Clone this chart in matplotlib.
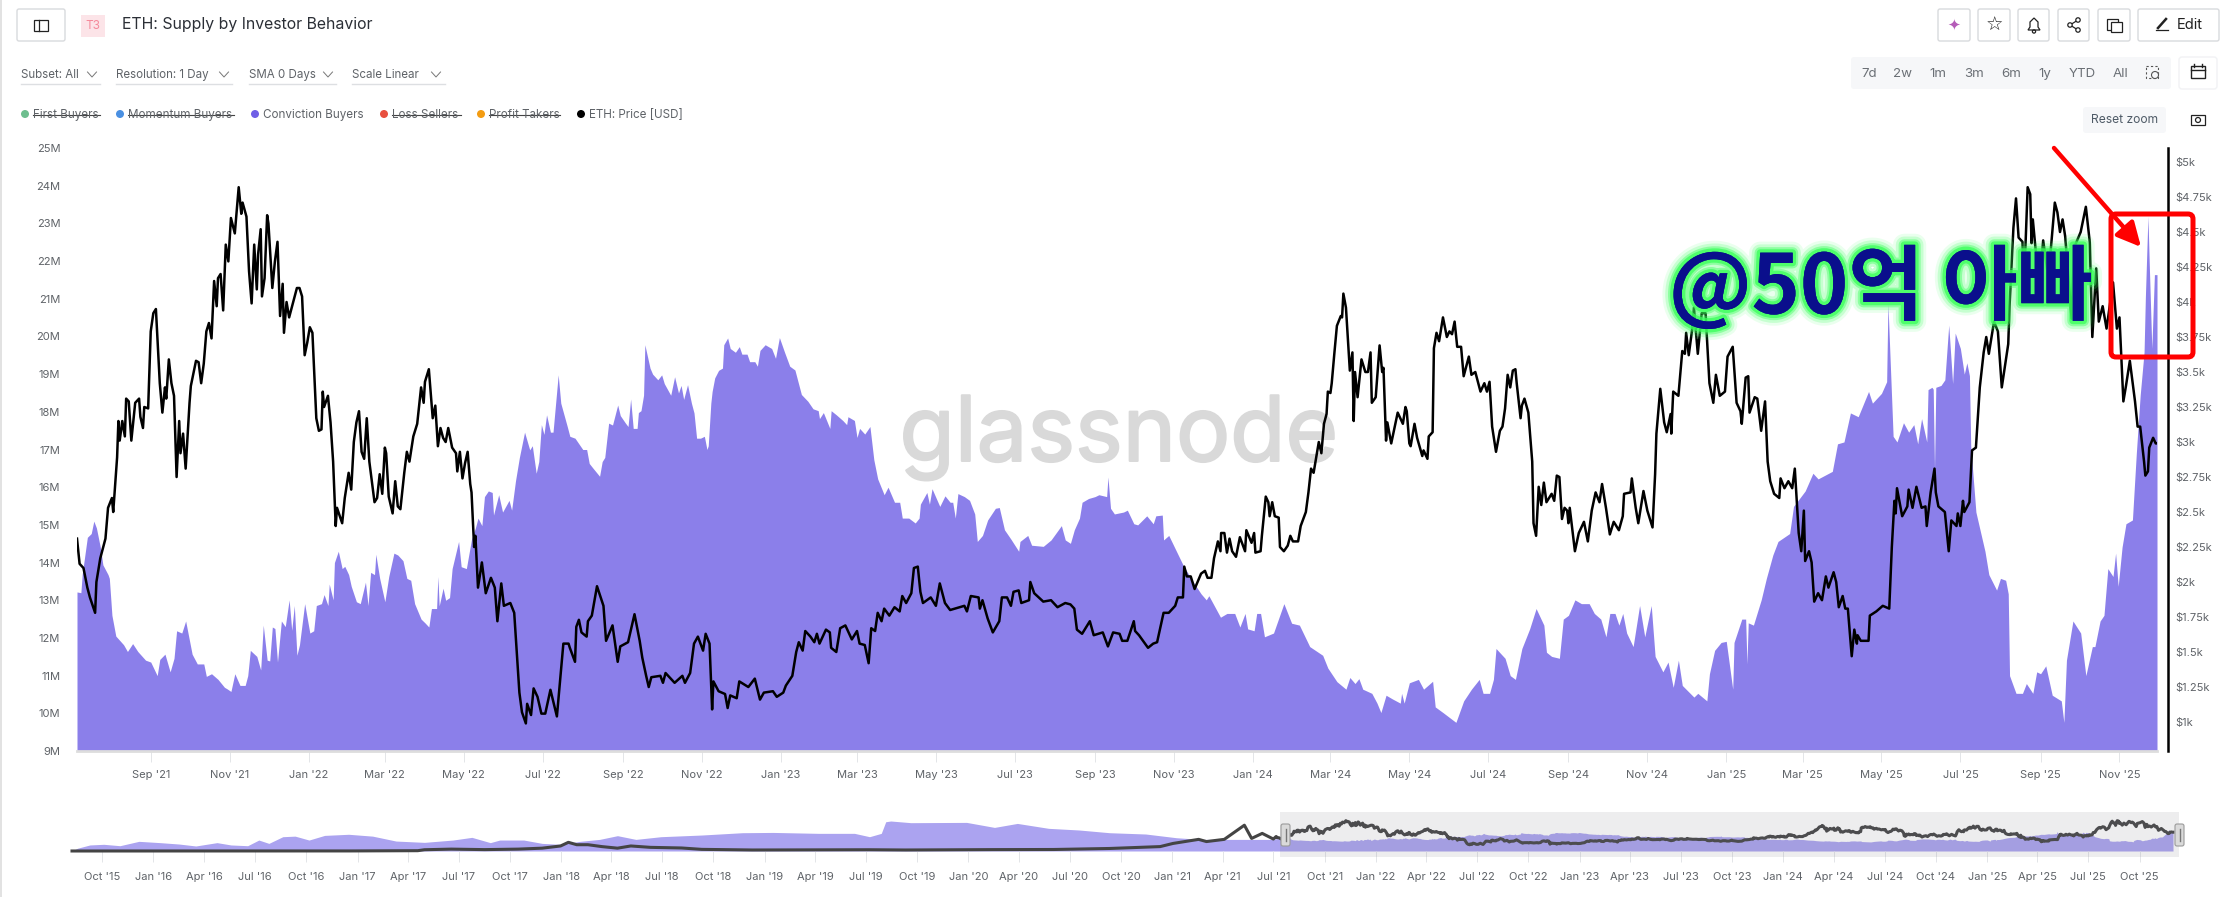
import numpy as np
import matplotlib
matplotlib.use('Agg')
import matplotlib.pyplot as plt
import matplotlib.dates as mdates
import matplotlib.patheffects as pe
from matplotlib.patches import Rectangle, FancyBboxPatch, Circle, Polygon

plt.rcParams['font.family'] = ['Inter', 'Noto Sans CJK KR', 'DejaVu Sans']

# DATA - main window, days counted from 2021-07-06
START = np.datetime64('2021-07-06')
supply_days = [0, 3, 4, 8, 11, 13, 15, 18, 20, 24, 25, 27, 30, 36, 39, 43, 47, 53, 57, 62, 64, 68, 72, 75, 77, 81, 84, 89, 93,
    98, 100, 104, 109, 114, 116, 119, 122, 126, 130, 132, 134, 139, 142, 144, 147, 149, 151, 153, 155, 158, 161, 164, 166, 168, 170, 172,
    176, 180, 183, 185, 189, 191, 194, 195, 198, 199, 202, 205, 207, 210, 212, 216, 219, 223, 225, 227, 230, 231, 234, 238, 241, 245, 248,
    252, 255, 258, 261, 266, 269, 272, 274, 278, 279, 280, 283, 285, 288, 290, 295, 297, 301, 305, 308, 310, 313, 315, 318, 321, 322, 326,
    329, 334, 336, 339, 342, 346, 350, 352, 355, 357, 359, 361, 363, 366, 368, 372, 374, 379,
    381, 385, 391, 394, 396, 399, 404, 406, 408, 411, 414, 418, 420, 424, 426, 428, 430, 433, 434, 436, 438, 439, 443, 445, 449, 452, 454,
    459, 462, 465, 467, 469, 472, 475, 477, 479, 482, 485, 487, 488, 490, 491, 493, 496, 499, 500, 503, 505, 509, 512, 514, 518, 520, 524,
    526, 528, 532, 537, 540, 543, 547, 551, 555, 560, 565, 569, 573, 574, 577, 582, 583, 587, 592, 595, 596, 601, 603, 605, 609, 613, 616,
    619, 624, 627, 632, 636, 638, 643, 648, 651, 652, 657, 659, 661, 667, 671, 675, 677, 679, 681, 686, 690, 694, 696, 700, 704, 710, 713,
    717, 722, 728, 729, 735, 738, 747, 753, 761, 764,
    768, 771, 775, 777, 782, 787, 790, 796, 797, 799, 802, 809, 812, 817, 820, 827, 832, 834, 839, 840, 844, 855, 863, 869, 873, 875, 884,
    889, 895, 899, 903, 905, 910, 912, 915, 918, 925, 933, 939, 945, 953, 963, 967, 974, 981, 984, 988, 991, 994, 1001, 1005, 1008, 1012,
    1017, 1023, 1024, 1026, 1030, 1037, 1041, 1046, 1048, 1050, 1056, 1066, 1072, 1078, 1084, 1087, 1092, 1095, 1097, 1104, 1108, 1112,
    1117, 1123, 1128, 1134, 1136, 1140, 1146, 1149, 1153,
    1158, 1163, 1169, 1173, 1178, 1182, 1185, 1189, 1192, 1195, 1198, 1203, 1208, 1212, 1217, 1220, 1226, 1230, 1234, 1238, 1241, 1250, 1253,
    1260, 1262, 1266, 1271, 1275, 1280, 1281, 1287, 1290, 1291, 1292, 1296, 1302, 1306, 1311, 1315, 1324, 1327, 1336, 1342, 1346, 1357, 1361,
    1366, 1371, 1377, 1385, 1388, 1395, 1399, 1400, 1404, 1407, 1412, 1416, 1420, 1423, 1426, 1430, 1431, 1434, 1435, 1436, 1437, 1441, 1444, 1447,
    1450, 1452, 1456, 1459, 1461, 1463, 1464, 1468, 1475, 1478, 1484, 1487, 1491, 1493, 1494, 1499, 1504, 1507, 1512, 1515, 1518, 1522, 1527, 1534,
    1536, 1538, 1543, 1549, 1553, 1558, 1560, 1564, 1567, 1570, 1574, 1576, 1578, 1581, 1584, 1589, 1592, 1595, 1598, 1599, 1601, 1602, 1604, 1606, 1608]
supply_m = [13.22, 13.2, 13.68, 14.67, 14.77, 15.10, 14.92, 14.41, 13.94, 13.68, 13.58, 12.60, 12.05, 11.82, 11.64, 11.85, 11.64, 11.41, 11.36, 11.0, 11.43, 11.57, 11.1, 11.46, 12.19, 12.13, 12.45, 11.57, 11.31,
    11.31, 10.98, 11.05, 10.9, 10.69, 10.65, 10.58, 11.05, 10.74, 10.74, 11.0, 11.67, 11.51, 11.15, 12.34, 11.41, 11.39, 12.29, 12.25, 11.36, 12.45, 12.3, 13.01, 12.2, 12.86, 11.54, 11.82,
    12.91, 12.13, 12.19, 12.86, 12.91, 13.15, 12.86, 13.43, 13.01, 14.0, 14.3, 13.84, 13.9, 13.68, 13.37, 12.96, 12.91, 13.48, 12.86, 13.74, 13.68, 14.22, 13.58, 12.96, 13.63, 14.25, 14.2,
    14.05, 13.58, 13.53, 12.91, 12.5, 12.4, 12.29, 12.78, 12.78, 13.63, 12.85, 13.32, 13.0, 13.07, 13.84, 14.56, 13.89, 13.84, 14.62, 14.92, 15.18, 14.98, 15.75, 15.9, 15.86, 15.26, 15.8,
    15.34, 15.65, 15.39, 16.17, 16.79, 17.46, 16.99, 17.1, 16.37, 16.68, 17.66, 17.4, 17.92, 17.46, 17.46, 18.98, 18.23, 17.61,
    17.35, 17.3, 17.0, 17.0, 16.63, 16.5, 16.29, 16.68, 16.79, 17.7, 17.65, 18.18, 17.9, 17.7, 17.61, 18.34, 17.56, 17.56, 17.98, 18.03, 18.44, 19.78, 19.16, 19.0, 18.85, 18.98, 18.75,
    18.44, 18.93, 18.5, 18.7, 18.33, 18.72, 18.23, 17.97, 17.3, 17.3, 17.35, 17.0, 17.1, 18.23, 18.54, 18.9, 19.1, 19.16, 19.78, 19.96, 19.68, 19.58, 19.73, 19.53, 19.53, 19.33, 19.33,
    19.21, 19.63, 19.78, 19.68, 19.42, 19.97, 19.58, 19.21, 19.11, 18.46, 18.28, 18.08, 18.03, 17.82, 17.98, 17.56, 18.03, 17.92, 17.77, 17.66, 17.87, 17.77, 17.32, 17.56, 17.41, 17.61, 16.73,
    16.22, 15.8, 16.0, 15.6, 15.6, 15.18, 15.18, 15.05, 15.18, 15.55, 15.86, 15.55, 15.96, 15.49, 15.77, 15.6, 15.6, 15.18, 15.83, 15.75, 15.65, 15.29, 14.56, 14.72, 15.13, 15.44, 15.46,
    14.87, 14.62, 14.3, 14.56, 14.72, 14.46, 14.43, 14.6, 14.98, 14.6,
    14.51, 14.87, 15.18, 15.6, 15.7, 15.75, 15.8, 15.75, 16.27, 15.44, 15.29, 15.34, 15.39, 15.03, 15.0, 15.24, 15.03, 15.24, 15.26, 14.6, 14.72, 13.94, 13.48, 13.17, 13.01, 13.12, 12.55,
    12.65, 12.65, 12.29, 12.65, 12.24, 12.19, 12.65, 12.65, 12.03, 12.13, 12.91, 12.39, 12.34, 11.77, 11.54, 11.2, 10.84, 10.64, 10.95, 10.79, 10.92, 10.64, 10.53, 10.27, 10.02, 10.48,
    10.38, 10.27, 10.53, 10.27, 10.81, 10.9, 10.64, 10.79, 10.85, 10.17, 10.02, 9.76, 10.33, 10.64, 10.9, 10.53, 10.53, 10.9, 11.72, 11.46, 11.0, 10.9,
    11.72, 12.24, 12.78, 12.34, 11.62, 11.51, 11.46, 12.5, 12.6,
    13.01, 12.91, 12.91, 12.65, 12.5, 12.03, 12.65, 12.65, 12.34, 12.65, 12.13, 11.77, 12.86, 12.03, 12.86, 11.51, 11.1, 11.36, 10.69, 11.41, 10.74, 10.43, 10.53,
    10.33, 11.05, 11.67, 11.88, 11.91, 10.64, 11.88, 12.5, 12.5, 11.31, 12.4, 12.34, 13.01, 13.58, 14.2, 14.56, 14.77, 15.49, 15.9, 16.37, 16.22, 16.42, 17.15,
    17.2, 17.97, 17.87, 18.54, 18.23, 18.49, 18.8, 20.87, 17.35, 17.2, 17.71, 17.46, 17.66, 17.15, 17.82, 17.2, 18.59, 18.65, 18.6, 16.47, 18.65, 18.7, 18.85, 20.3,
    18.75, 20.09, 19.68, 19.0, 19.3, 18.96, 17.1, 15.34, 14.3, 13.68, 13.27, 13.58, 13.53, 13.17, 11.0, 10.53, 10.53, 10.79, 10.53, 11.1, 11.05, 11.26, 10.48, 10.33,
    9.76, 11.41, 12.45, 12.13, 11.0, 11.77, 11.77, 12.45, 12.6, 13.84, 13.63, 14.25, 13.37, 14.41, 15.03, 15.13, 16.89, 18.44, 19.58, 21.02, 23.19, 21.95, 19.68, 21.64, 21.64]

price_days = [0, 2, 5, 8, 10, 14, 15, 18, 22, 24, 27, 28, 31, 32, 33, 35, 37, 38, 40, 42, 45, 48, 49, 51, 52, 55, 57, 59, 61, 64, 66, 68, 69, 71, 73, 75, 77, 79, 80, 82, 84, 87, 88, 92, 94,
    96, 98, 100, 102, 104, 106, 108, 109, 111, 113, 115, 117, 119, 122, 125, 127, 128, 131, 133, 135, 137, 139, 140, 142, 143, 145, 147, 148, 151, 153, 155, 157, 159, 160, 162, 164,
    166, 170, 172, 174, 176, 178, 180, 182, 185, 187, 189, 190, 191, 194, 196, 198, 200, 201, 205, 207, 210, 212, 214, 216, 218, 220, 222, 224, 226, 230, 232, 234, 236, 238, 239, 241,
    244, 246, 248, 250, 253, 255, 257, 260, 263, 266, 268, 269, 272, 275, 277, 279, 281, 283, 285, 287, 290, 293, 294, 296, 298, 300, 302, 304, 305, 307, 308, 310, 313, 316, 320,
    323, 325, 328, 330, 335, 338, 340, 342, 344, 347, 348, 351, 353, 356, 359, 362, 366, 371, 374, 376, 380,
    381, 385, 386, 388, 390, 394, 395, 398, 402, 407, 409, 414, 418, 420, 426, 431, 435, 437, 440, 442, 444, 451, 453, 455, 462, 468, 470, 474, 477, 480, 484, 486, 489, 491, 492, 496,
    501, 503, 505, 510, 512, 519, 524, 528, 531, 538, 541, 546, 548, 553, 556, 558, 561, 563, 567, 570, 572, 574, 579, 582, 583, 587, 590, 594, 599, 603, 605, 609, 612, 614, 617, 619,
    622, 624, 628, 632, 636, 638, 641, 645, 647, 650, 652, 654, 660, 664, 667, 671, 675, 686, 688, 691, 697, 698, 700, 704, 708, 713, 715, 719, 722, 724, 728, 730, 736, 737, 740, 747,
    753, 758, 764,
    768, 771, 773, 777, 783, 786, 793, 797, 801, 806, 808, 812, 817, 818, 821, 828, 832, 835, 840, 844, 849, 851, 855, 856, 858, 861, 864, 869, 872, 874, 877, 879, 882, 884, 884.5, 887,
    889, 891, 893, 896, 899, 903, 904, 908, 910, 911, 915, 916, 919, 921, 922, 924, 926, 929, 930, 933, 936, 938, 940, 944, 946, 950, 952, 954, 956, 960, 962, 964, 966, 967, 969, 970, 972,
    974, 977, 978, 979, 981, 984, 986, 987, 988, 990, 993, 996, 998, 1000, 1001, 1004, 1007, 1009, 1010, 1012, 1013, 1016, 1021, 1025, 1027, 1028, 1030, 1031, 1034, 1036, 1040, 1041, 1044,
    1045, 1048, 1049, 1051, 1053, 1056, 1059, 1061, 1063, 1065, 1067, 1070, 1072, 1076, 1078, 1081, 1085, 1088, 1090, 1092, 1094, 1097, 1100, 1102, 1104, 1106, 1108, 1110, 1112, 1113, 1116,
    1117, 1119, 1122, 1125, 1126, 1128, 1130, 1132, 1134, 1136, 1140, 1142, 1144, 1146, 1148, 1150, 1152, 1153,
    1154, 1158, 1161, 1165, 1168, 1171, 1174, 1177, 1179, 1182, 1185, 1188, 1192, 1195, 1196, 1201, 1202, 1205, 1207, 1211, 1214, 1218, 1220, 1221, 1224, 1227, 1229, 1232, 1232.5, 1234, 1238,
    1241, 1243, 1244, 1246, 1249, 1250, 1253, 1256, 1259, 1262, 1265, 1267, 1270, 1274, 1276, 1280, 1283, 1286, 1287, 1290, 1292, 1293, 1297, 1299, 1302, 1305, 1307, 1309, 1312, 1316, 1317,
    1320, 1323, 1326, 1328, 1331, 1333, 1335, 1336, 1339, 1341, 1343, 1346, 1349, 1352, 1354, 1358, 1360, 1362, 1365, 1367, 1369, 1372, 1374, 1376, 1376.5, 1379, 1385, 1386, 1391, 1396, 1401,
    1403, 1405, 1406, 1407, 1411, 1415, 1416, 1419, 1422, 1426, 1429, 1430, 1433, 1436, 1437, 1439, 1444, 1447, 1449, 1453, 1454, 1456, 1458, 1459, 1463, 1465, 1468, 1471, 1474, 1476, 1478,
    1482, 1485, 1488, 1493, 1494, 1497, 1499, 1501, 1504, 1505, 1508, 1510, 1511, 1512, 1514, 1517, 1520, 1524, 1529, 1531, 1533, 1535, 1537, 1542, 1544, 1549, 1553, 1556, 1558, 1561, 1563,
    1566, 1569, 1574, 1577, 1579, 1582, 1584, 1587, 1591, 1593, 1595, 1598, 1599, 1601, 1602, 1605, 1607, 1608]
price_k = [2.31, 2.13, 2.10, 1.96, 1.89, 1.78, 2.00, 2.17, 2.31, 2.53, 2.60, 2.50, 2.89, 3.15, 3.01, 3.15, 3.04, 3.31, 3.29, 3.01, 3.28, 3.31, 3.18, 3.10, 3.25, 3.24, 3.79, 3.92, 3.95, 3.42, 3.21, 3.39, 3.31, 3.59, 3.42, 3.33, 2.75, 3.15, 2.92, 3.06, 2.81, 3.28, 3.40, 3.58, 3.57,
    3.42, 3.56, 3.79, 3.85, 3.74, 4.15, 3.97, 4.17, 4.20, 3.94, 4.41, 4.29, 4.60, 4.49, 4.82, 4.63, 4.71, 4.61, 4.22, 3.99, 4.41, 4.09, 4.34, 4.52, 4.04, 4.17, 4.62, 4.56, 4.10, 4.29, 4.43, 3.90, 4.13, 3.78, 4.00, 3.89,
    3.96, 4.10, 4.10, 4.04, 3.62, 3.71, 3.82, 3.78, 3.17, 3.08, 3.09, 3.36, 3.25, 3.33, 3.14, 2.86, 2.40, 2.53, 2.42, 2.60, 2.78, 2.66, 3.00, 3.14, 3.22, 2.93, 2.88, 3.17, 2.86, 2.57, 2.60, 2.77, 2.63, 2.96, 2.92, 2.61,
    2.49, 2.72, 2.54, 2.52, 2.78, 2.93, 2.86, 3.04, 3.13, 3.39, 3.28, 3.43, 3.52, 3.17, 3.26, 2.97, 3.10, 3.03, 3.00, 3.10, 2.96, 2.92, 2.79, 2.93, 2.74, 2.85, 2.93, 2.70, 2.64, 2.25, 2.33, 1.96, 2.14, 1.92, 2.03,
    1.96, 1.72, 1.99, 1.83, 1.85, 1.78, 1.50, 1.21, 1.07, 0.99, 1.13, 1.05, 1.24, 1.18, 1.06, 1.06, 1.23, 1.04, 1.35, 1.56, 1.56,
    1.53, 1.43, 1.68, 1.73, 1.64, 1.61, 1.72, 1.76, 1.97, 1.83, 1.58, 1.69, 1.43, 1.54, 1.57, 1.77, 1.58, 1.46, 1.33, 1.25, 1.32, 1.33, 1.28, 1.35, 1.28, 1.33, 1.28, 1.35, 1.56, 1.61, 1.51, 1.63, 1.56, 1.09, 1.29, 1.22,
    1.20, 1.10, 1.19, 1.17, 1.29, 1.25, 1.31, 1.16, 1.21, 1.22, 1.18, 1.21, 1.26, 1.33, 1.50, 1.57, 1.51, 1.65, 1.61, 1.57, 1.63, 1.56, 1.66, 1.64, 1.53, 1.50, 1.67, 1.69, 1.59, 1.65, 1.56, 1.55, 1.42, 1.67, 1.65, 1.78,
    1.72, 1.81, 1.76, 1.82, 1.79, 1.90, 1.85, 1.92, 2.10, 2.11, 1.93, 1.85, 1.89, 1.83, 1.99, 1.85, 1.80, 1.83, 1.79, 1.90, 1.89, 1.81, 1.87, 1.74, 1.64, 1.72, 1.89, 1.89, 1.83, 1.93, 1.94, 1.85, 1.87, 2.00, 1.92, 1.86,
    1.87, 1.82, 1.85,
    1.84, 1.81, 1.66, 1.63, 1.72, 1.62, 1.64, 1.54, 1.64, 1.63, 1.58, 1.58, 1.72, 1.65, 1.62, 1.53, 1.56, 1.57, 1.78, 1.78, 1.83, 1.89, 1.89, 2.11, 2.04, 2.04, 1.95, 2.06, 2.08, 2.03, 2.03, 2.17, 2.29, 2.22, 2.35, 2.35,
    2.21, 2.31, 2.22, 2.18, 2.32, 2.22, 2.37, 2.28, 2.35, 2.21, 2.22, 2.33, 2.61, 2.57, 2.47, 2.57, 2.47, 2.46, 2.25, 2.22, 2.26, 2.33, 2.29, 2.29, 2.40, 2.50, 2.64, 2.81, 2.78, 3.00, 2.92, 3.13, 3.20, 3.36, 3.35, 3.42, 3.63,
    3.83, 3.90, 3.89, 4.06, 3.96, 3.51, 3.64, 3.15, 3.50, 3.32, 3.59, 3.50, 3.50, 3.64, 3.28, 3.32, 3.69, 3.50, 3.53, 3.01, 3.14, 2.99, 3.21, 3.13, 3.25, 3.22, 2.99, 2.97, 3.13, 3.03, 2.90, 2.94, 2.88,
    3.04, 3.07, 3.67, 3.78, 3.72, 3.89, 3.75, 3.79, 3.77, 3.86, 3.68, 3.68, 3.47, 3.61, 3.48, 3.50, 3.36, 3.42, 3.36, 3.43, 3.11, 2.93, 3.08, 3.11, 3.24, 3.48, 3.39, 3.51, 3.52, 3.42, 3.17,
    3.26, 3.31, 3.21, 2.86, 2.42, 2.33, 2.68, 2.55, 2.71, 2.57, 2.63, 2.58, 2.76, 2.75, 2.45, 2.53, 2.51, 2.42,
    2.53, 2.22, 2.35, 2.43, 2.29, 2.51, 2.64, 2.57, 2.70, 2.53, 2.34, 2.43, 2.37, 2.47, 2.63, 2.64, 2.74, 2.53, 2.42, 2.65, 2.51, 2.39, 2.77, 3.06, 3.38, 3.14, 3.07, 3.20, 3.06, 3.36, 3.33,
    3.65, 3.63, 3.78, 3.62, 3.83, 3.96, 3.63, 3.92, 3.92, 3.42, 3.28, 3.48, 3.33, 3.36, 3.61, 3.68, 3.28, 3.22, 3.13, 3.46, 3.47, 3.21, 3.32, 3.31, 3.08, 3.29, 2.86, 2.72, 2.63, 2.60, 2.74,
    2.67, 2.72, 2.67, 2.81, 2.35, 2.22, 2.51, 2.15, 2.22, 2.14, 1.86, 1.92, 1.87, 2.04, 1.96, 2.07, 2.00, 1.82, 1.90, 1.81, 1.81, 1.47, 1.66, 1.56, 1.62, 1.58, 1.58, 1.76, 1.79, 1.83, 1.81,
    2.25, 2.58, 2.49, 2.67, 2.47, 2.54, 2.66, 2.53, 2.68, 2.53, 2.54, 2.40, 2.64, 2.81, 2.64, 2.54, 2.50, 2.22, 2.44, 2.40, 2.49, 2.40, 2.58, 2.50, 2.57, 2.94, 2.96, 3.39, 3.64, 3.75, 3.63,
    3.86, 3.79, 3.39, 3.70, 3.97, 4.53, 4.74, 4.46, 4.43, 4.07, 4.82, 4.77, 4.42, 4.59, 4.39, 4.11, 4.44, 4.17, 4.71, 4.64, 4.50, 4.59, 4.47, 3.88, 4.39, 4.50, 4.68, 4.43, 3.75, 4.24, 3.86,
    3.97, 3.81, 4.14, 3.81, 3.89, 3.29, 3.40, 3.58, 3.29, 3.11, 3.11, 2.86, 2.76, 2.79, 2.96, 3.03, 2.99, 2.99]

# navigator before the main window, days counted from 2015-08-08
NAV_START = np.datetime64('2015-08-08')
NAV_OFFSET = int((START - NAV_START) / np.timedelta64(1, 'D'))
nav_supply_days = [0, 10, 32, 57, 86, 120, 158, 192, 222, 260, 285, 315, 335, 353, 378, 400, 425, 453, 496, 539, 581, 632, 683, 717, 750, 767, 810, 843, 876, 911,
    946, 978, 1011, 1056, 1129, 1202, 1257, 1339, 1403, 1430, 1451, 1459, 1468, 1504, 1604, 1654, 1695, 1751, 1806, 1860, 1925, 1980, 2025, 2108, 2152]
nav_supply_m = [0, 3, 6.5, 7.2, 5.7, 10.4, 9, 7.5, 5.4, 9, 6.5, 5.7, 11.8, 8.2, 15.4, 16, 11.8, 16.8, 18, 16, 10.7, 9.3, 11.8, 14.7, 9, 11.8, 11.8, 8.2, 7.2, 10.4,
    12.5, 16.5, 12.5, 15.4, 17.2, 19.7, 20, 19, 19, 15.4, 19, 31.5, 32.3, 30.5, 30.8, 25.4, 29.7, 24.4, 22.6, 19.7, 18.3, 14.3, 12.5, 12.5, 12.5]
nav_price_days = [0, 200, 500, 620, 632, 680, 740, 800, 843, 876, 890, 905, 925, 950, 978, 1002, 1037, 1093, 1129, 1220, 1376, 1430, 1494, 1650, 1760, 1860, 1951, 1974, 2020, 2034, 2066, 2102, 2115, 2134, 2154]
nav_price_k = [0.001, 0.01, 0.01, 0.05, 0.2, 0.3, 0.22, 0.3, 0.45, 0.8, 1.38, 1.0, 1.0, 0.7, 0.45, 0.8, 0.58, 0.48, 0.26, 0.16, 0.2, 0.2, 0.16, 0.22, 0.24, 0.4, 0.7, 1.2, 1.85, 1.5, 1.85, 4.1, 2.0, 2.8, 1.9]

supply_ticks = list(range(9, 26))
price_ticks = [1, 1.25, 1.5, 1.75, 2, 2.25, 2.5, 2.75, 3, 3.25, 3.5, 3.75, 4, 4.25, 4.5, 4.75, 5]
price_tick_labels = ['$1k', '$1.25k', '$1.5k', '$1.75k', '$2k', '$2.25k', '$2.5k', '$2.75k', '$3k', '$3.25k', '$3.5k', '$3.75k', '$4k', '$4.25k', '$4.5k', '$4.75k', '$5k']

legend_names = ['First Buyers', 'Momentum Buyers', 'Conviction Buyers', 'Loss Sellers', 'Profit Takers', 'ETH: Price [USD]']
legend_colors = ['#6DBE8E', '#4A90E2', '#6F5FE6', '#E8503F', '#F39C12', '#000000']
legend_dot_x = [25, 120, 255, 384, 481, 581]
legend_end_x = [100, 234, None, 461, 560, None]
range_labels = ['7d', '2w', '1m', '3m', '6m', '1y', 'YTD', 'All']
range_x = [1869, 1903, 1938, 1974, 2011, 2045, 2082, 2121]
dropdown_labels = ['Subset: All', 'Resolution: 1 Day', 'SMA 0 Days', 'Scale Linear']
dropdown_x = [21, 116, 249, 352]
dropdown_caret = [92, 224, 328, 436]
dropdown_end = [100, 232, 336, 445]

W, H = 2228, 897
FILL = '#8B7FEA'
GREY = '#5F6368'


def px_axes(left, top, right, bottom):
    return [left / W, 1 - bottom / H, (right - left) / W, (bottom - top) / H]


fig = plt.figure(figsize=(W / 100, H / 100), dpi=100, facecolor='white')

# full figure layer in pixel coordinates, for the page furniture
ui = fig.add_axes([0, 0, 1, 1], zorder=5)
ui.set_xlim(0, W)
ui.set_ylim(H, 0)
ui.axis('off')
ui.patch.set_visible(False)

# main chart
ax = fig.add_axes(px_axes(77, 148, 2157, 751), zorder=1)
ax.patch.set_visible(False)
sup_x = START + np.array(supply_days, dtype='timedelta64[D]')
ax.fill_between(sup_x, 9, supply_m, color=FILL, lw=0, zorder=2)
ax.set_xlim(START, START + np.timedelta64(1608, 'D'))
ax.set_ylim(9, 25)
ax.set_yticks(supply_ticks)
ax.set_yticklabels([f'{v}M' for v in supply_ticks])
ax.xaxis.set_major_locator(mdates.MonthLocator(bymonth=[1, 3, 5, 7, 9, 11]))
ax.xaxis.set_major_formatter(mdates.DateFormatter("%b '%y"))
ax.tick_params(axis='y', length=0, pad=12, labelsize=8, labelcolor=GREY)
ax.tick_params(axis='x', length=8, width=0.7, color='#E3E5E8', pad=6, labelsize=8, labelcolor=GREY)
for s in ['top', 'left', 'right']:
    ax.spines[s].set_visible(False)
ax.spines['bottom'].set_color('#DDDDDD')
ax.spines['bottom'].set_linewidth(2)

ax.text(1119, 438, 'glassnode', transform=ui.transData, fontsize=65, color='#D9D9D9',
        family=['Inter', 'DejaVu Sans'], ha='center', va='center', zorder=1,
        path_effects=[pe.withStroke(linewidth=1.5, foreground='#D9D9D9')])

ax2 = ax.twinx()
ax2.patch.set_visible(False)
ax2.plot(START + np.array([int(round(d * 2)) * 12 for d in price_days], dtype='timedelta64[h]'), price_k,
         color='black', lw=1.8, solid_joinstyle='round', zorder=3)
ax2.set_ylim(0.793, 5.1)
ax2.set_yticks(price_ticks)
ax2.set_yticklabels(price_tick_labels)
ax2.tick_params(axis='y', length=0, pad=5, labelsize=8, labelcolor=GREY)
for s in ['top', 'left', 'bottom']:
    ax2.spines[s].set_visible(False)
ax2.spines['right'].set_position(('outward', 8))
ax2.spines['right'].set_linewidth(1.8)

# navigator
nav_sup_days = nav_supply_days + [d + NAV_OFFSET for d in supply_days]
nav_sup_vals = nav_supply_m + supply_m
nav_pr_days = nav_price_days + [d + NAV_OFFSET for d in price_days]
nav_pr_vals = nav_price_k + price_k
nav_left, nav_right = 72, 2173
nav = fig.add_axes(px_axes(nav_left, 812, nav_right, 851), zorder=1)
nav.patch.set_visible(False)
nav.fill_between(NAV_START + np.array(nav_sup_days, dtype='timedelta64[D]'), 0, nav_sup_vals, color='#ABA3F0', lw=0)
nav.set_xlim(NAV_START, NAV_START + np.timedelta64(3767, 'D'))
nav.set_ylim(0, 42)
nav.set_yticks([])
nav.xaxis.set_major_locator(mdates.MonthLocator(bymonth=[1, 4, 7, 10]))
nav.xaxis.set_major_formatter(mdates.DateFormatter("%b '%y"))
nav.tick_params(axis='x', length=8, width=0.7, color='#E3E5E8', pad=7, labelsize=8, labelcolor=GREY)
for s in nav.spines.values():
    s.set_visible(False)
nav2 = nav.twinx()
nav2.patch.set_visible(False)
nav2.plot(NAV_START + np.array([int(round(d * 2)) * 12 for d in nav_pr_days], dtype='timedelta64[h]'), nav_pr_vals,
          color='#444444', lw=2.2, clip_on=False)
nav2.set_ylim(0, 6.2)
nav2.set_yticks([])
for s in nav2.spines.values():
    s.set_visible(False)

ui.add_patch(Rectangle((1280, 812), 899, 45, fc=(0.5, 0.5, 0.55, 0.14), ec='none'))
for hx in [1280, 2174]:
    ui.add_patch(FancyBboxPatch((hx + 1, 824), 9, 22, boxstyle='round,pad=0,rounding_size=2', fc='#DADADA', ec='#9A9A9A', lw=0.8))
    ui.plot([hx + 5.5, hx + 5.5], [829, 841], color='#777777', lw=1)

# left page border
ui.plot([0.5, 0.5], [0, H], color='#DDDDDD', lw=1.2)


def button(x0, y0, x1, y1):
    ui.add_patch(FancyBboxPatch((x0, y0), x1 - x0, y1 - y0, boxstyle='round,pad=0,rounding_size=2',
                                fc='white', ec='#D8DADD', lw=1))


# header
button(17, 9, 65, 41)
ui.add_patch(Rectangle((34, 20), 14, 11, fc='none', ec='#222222', lw=0.9))
ui.plot([39, 39], [20, 31], color='#222222', lw=0.9)
ui.add_patch(Rectangle((81, 15), 24, 22, fc='#FCE4E8', ec='none'))
ui.text(93, 26, 'T3', fontsize=8.5, color='#F58A9B', ha='center', va='center')
ui.text(122, 25, 'ETH: Supply by Investor Behavior', fontsize=11.4, color='#2B2F36', va='center')

for x0, x1 in [(1938, 1970), (1978, 2010), (2018, 2049), (2058, 2089), (2098, 2130), (2138, 2219)]:
    button(x0, 9, x1, 41)
ui.text(1954, 25, '\u2726', fontsize=11, color='#B55DB8', ha='center', va='center', family=['DejaVu Sans'])
ui.text(1994, 25, '\u2606', fontsize=14, color='#222222', ha='center', va='center', family=['DejaVu Sans'])
ui.add_patch(Polygon([[2028, 30], [2030, 27], [2030, 22], [2034, 18], [2038, 22], [2038, 27], [2040, 30]], fc='none', ec='#222222', lw=0.9))
ui.add_patch(Circle((2034, 31.5), 1.6, fc='none', ec='#222222', lw=0.9))
ui.plot([2078, 2070, 2078], [20, 25, 30], color='#222222', lw=0.9)
for cx, cy in [(2078, 20), (2070, 25), (2078, 30)]:
    ui.add_patch(Circle((cx, cy), 2.2, fc='white', ec='#222222', lw=0.9, zorder=3))
ui.add_patch(Rectangle((2107, 19), 11, 11, fc='none', ec='#222222', lw=0.9))
ui.add_patch(Rectangle((2111, 22), 10.5, 10.5, fc='white', ec='#222222', lw=0.9))
ui.plot([2156, 2168], [30.5, 30.5], color='#222222', lw=0.9)
ui.plot([2158, 2166], [28, 19], color='#222222', lw=1.8)
ui.text(2190, 25, 'Edit', fontsize=10.6, color='#222222', ha='center', va='center')

# dropdowns
for name, x0, xc, x1 in zip(dropdown_labels, dropdown_x, dropdown_caret, dropdown_end):
    ui.text(x0, 75, name, fontsize=8.3, color=GREY, va='center')
    ui.plot([xc - 4.5, xc, xc + 4.5], [72, 77, 72], color='#777777', lw=0.7)
    ui.plot([x0, x1], [84, 84], color='#DDDFE2', lw=1)

# legend
for name, col, dx, ex in zip(legend_names, legend_colors, legend_dot_x, legend_end_x):
    ui.add_patch(Circle((dx, 114), 4, fc=col, ec='none'))
    ui.text(dx + 8, 115, name, fontsize=8.4, color=GREY, va='center')
    if ex is not None:
        ui.plot([dx + 8, ex], [115, 115], color='#444444', lw=0.8)

# range selector
ui.add_patch(FancyBboxPatch((1851, 57), 320, 32, boxstyle='round,pad=0,rounding_size=3', fc='#F6F7F9', ec='none'))
for name, x0 in zip(range_labels, range_x):
    ui.text(x0, 74, name, fontsize=9.6, color='#6B7076', ha='center', va='center')
ui.add_patch(Rectangle((2146, 66), 12, 12, fc='none', ec='#555555', lw=0.8, ls=(0, (2, 2))))
ui.add_patch(Circle((2155, 75), 3.5, fc='#F6F7F9', ec='#555555', lw=0.8))
ui.add_patch(FancyBboxPatch((2179, 57), 38, 32, boxstyle='round,pad=0,rounding_size=3', fc='white', ec='#F1F2F4', lw=1))
ui.add_patch(Rectangle((2191, 66), 14, 12.5, fc='none', ec='#222222', lw=1))
ui.plot([2191, 2205], [70, 70], color='#222222', lw=1)
ui.plot([2194, 2194], [64, 67], color='#222222', lw=1)
ui.plot([2202, 2202], [64, 67], color='#222222', lw=1)
ui.add_patch(FancyBboxPatch((2083, 107), 83, 26, boxstyle='round,pad=0,rounding_size=3', fc='#F6F7F9', ec='none'))
ui.text(2124.5, 120, 'Reset zoom', fontsize=8.7, color='#4F5B67', ha='center', va='center')
ui.add_patch(Rectangle((2191, 115), 14, 10, fc='none', ec='#222222', lw=0.9))
ui.add_patch(Circle((2198, 120), 2.5, fc='none', ec='#222222', lw=0.9))

# hand drawn marks on the screenshot
ui.add_patch(FancyBboxPatch((2111, 214), 82, 143, boxstyle='round,pad=0,rounding_size=5', fc='none', ec='#FF0000', lw=3.6))
ui.annotate('', xy=(2141, 247), xytext=(2054, 148),
            arrowprops=dict(arrowstyle='-|>,head_length=0.9,head_width=0.45', color='#FF0000', lw=3.2, mutation_scale=16,
                            shrinkA=0, shrinkB=0))
glow = [pe.withStroke(linewidth=w, foreground='#39FF5A', alpha=a) for w, a in [(16, 0.10), (12, 0.2), (8, 0.4), (5, 0.75)]]
ui.text(1881, 289, '@50억 아빠', fontsize=59, fontweight='bold', color='#0A0F8C', ha='center', va='center',
        family=['Noto Sans CJK KR', 'DejaVu Sans'], path_effects=glow + [pe.Normal()])

fig.savefig('out.png', dpi=100)
